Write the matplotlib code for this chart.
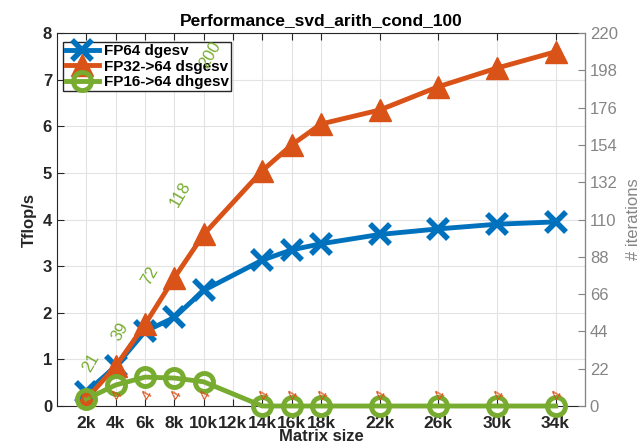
import matplotlib.pyplot as plt
from matplotlib.transforms import blended_transform_factory

plt.rcParams['font.family'] = ['Liberation Sans', 'DejaVu Sans']

sizes = [2, 4, 6, 8, 10, 14, 16, 18, 22, 26, 30, 34]  # matrix size in k
tick_pos = [2, 4, 6, 8, 10, 12, 14, 16, 18, 22, 26, 30, 34]
tick_lab = ['2k', '4k', '6k', '8k', '10k', '12k', '14k', '16k', '18k', '22k', '26k', '30k', '34k']

fp64 = [0.3, 0.85, 1.6, 1.9, 2.48, 3.13, 3.35, 3.48, 3.68, 3.8, 3.9, 3.95]
fp32 = [0.15, 0.85, 1.75, 2.75, 3.68, 5.05, 5.6, 6.05, 6.35, 6.85, 7.25, 7.6]
fp16 = [0.15, 0.45, 0.62, 0.6, 0.52, 0, 0, 0, 0, 0, 0, 0]

it32 = [3, 4, 4, 4, 4, 4, 4, 4, 4, 4, 4, 4]
it16 = [21, 39, 72, 118, 200]  # only first five sizes converge

blue = '#0072BD'
orange = '#D95319'
green = '#77AC30'
dark = '#262626'
gray = '#858585'

fig = plt.figure(figsize=(6.4, 4.45), dpi=100, facecolor='white')
ax = fig.add_axes([0.089, 0.0876, 0.825, 0.838])
ax2 = ax.twinx()

ax.plot(sizes, fp64, color=blue, lw=3.5, marker='x', ms=14, mew=4, label='FP64 dgesv', zorder=3)
ax.plot(sizes, fp32, color=orange, lw=3.5, marker='^', ms=16, label='FP32->64 dsgesv', zorder=4)
ax.plot(sizes, fp16, color=green, lw=3.5, marker='o', ms=13, mew=3.5, mfc='none',
        label='FP16->64 dhgesv', zorder=7, clip_on=False)

# iteration counts, placed on the right-hand scale
tr = blended_transform_factory(ax.transData, ax2.transData)
for x, n in zip(sizes, it32):
    ax.text(x, n, str(n), transform=tr, color=orange, fontsize=11, rotation=60,
            rotation_mode='anchor', ha='left', va='center', zorder=9)
for x, n in zip(sizes, it16):
    ax.text(x, n, str(n), transform=tr, color=green, fontsize=12, rotation=60,
            rotation_mode='anchor', ha='left', va='center', zorder=8)

ax.set_xlim(0, 36)
ax.set_ylim(0, 8)
ax2.set_ylim(0, 220)
ax.set_xticks(tick_pos)
ax.set_xticklabels(tick_lab)
ax.set_yticks(range(0, 9))
ax2.set_yticks(range(0, 221, 22))

ax.grid(True, color='#e3e3e3', lw=0.8)
ax.set_axisbelow(True)

ax.tick_params(axis='both', direction='in', colors=dark, labelsize=12, top=True, length=5)
ax.tick_params(axis='x', pad=7, labelsize=12.5)
for lab in ax.get_xticklabels() + ax.get_yticklabels():
    lab.set_fontweight('bold')
ax2.tick_params(axis='y', direction='in', colors=gray, labelsize=12, length=5)

for s in ['left', 'top', 'bottom']:
    ax.spines[s].set_color(dark)
ax2.spines['right'].set_color(gray)
for s in ['left', 'top', 'bottom']:
    ax2.spines[s].set_visible(False)

ax.set_xlabel('Matrix size', fontsize=12, fontweight='bold', color=dark, labelpad=-1)
ax.set_ylabel('Tflop/s', fontsize=12, fontweight='bold', color=dark, labelpad=4)
ax2.set_ylabel('# iterations', fontsize=12, color=gray, labelpad=6)
ax.set_title('Performance_svd_arith_cond_100', fontsize=12.5, fontweight='bold', color='black', pad=6)

leg = ax.legend(loc='upper left', bbox_to_anchor=(0.012, 0.977), fancybox=False, framealpha=1,
                edgecolor=dark, fontsize=11, handlelength=2.2, borderpad=0.15,
                labelspacing=0.1, handletextpad=0.3, borderaxespad=0)
leg.set_zorder(5)
for t in leg.get_texts():
    t.set_fontweight('bold')

fig.savefig('out.png', dpi=100)
